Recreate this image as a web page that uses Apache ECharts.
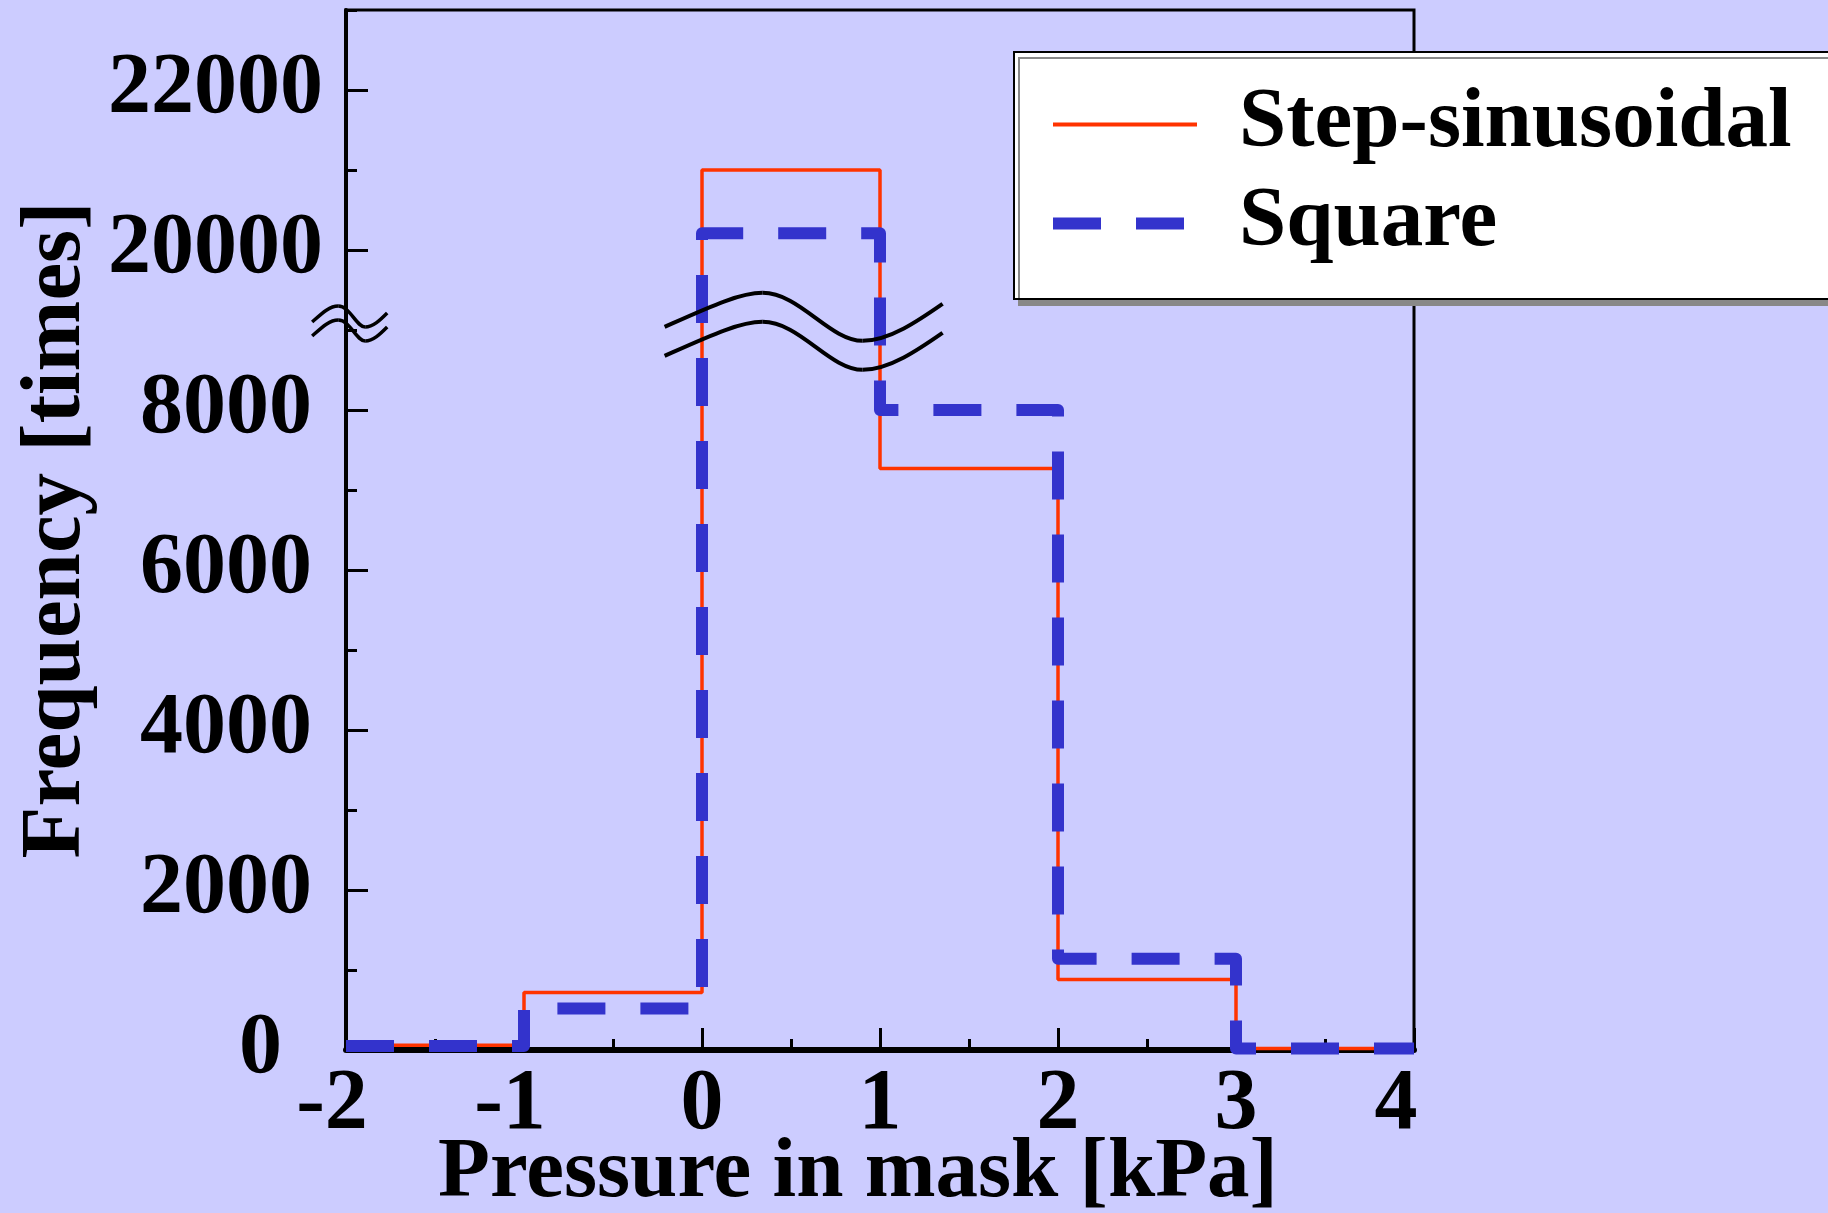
<!DOCTYPE html>
<html>
<head>
<meta charset="utf-8">
<script src="https://cdn.jsdelivr.net/npm/echarts@6/dist/echarts.min.js"></script>
<style>
  html, body { margin: 0; padding: 0; background: #ccccff; }
  #main { width: 1828px; height: 1213px; }
</style>
</head>
<body>
<div id="main"></div>
<script>
// histogram bins (kPa) and counts per bin
var binEdges = [-2, -1, 0, 1, 2, 3, 4];
var stepSinusoidal = [60, 720, 21000, 7270, 880, 20];
var square = [50, 520, 20210, 8000, 1140, 20];
var seriesNames = ['Step-sinusoidal', 'Square'];

// broken y axis: everything above 9000 is drawn 10000 lower
var breakFrom = 9000;
var breakSkip = 10000;

var font = 'Liberation Serif';

function squeeze(v) {
  return v > breakFrom ? v - breakSkip : v;
}

function stepPoints(values) {
  var pts = values.map(function (v, i) {
    return [binEdges[i], squeeze(v)];
  });
  pts.push([binEdges[binEdges.length - 1], squeeze(values[values.length - 1])]);
  return pts;
}

var labelStyle = {
  fontFamily: font,
  fontWeight: 'bold',
  fontSize: 86,
  lineHeight: 86,
  color: '#000'
};

var chart = echarts.init(document.getElementById('main'), null, { renderer: 'canvas' });

var option = {
  animation: false,
  backgroundColor: '#ccccff',
  grid: {
    left: 346,
    right: 414,
    top: 10,
    bottom: 163,
    outerBoundsMode: 'none',
    show: true,
    borderColor: '#000',
    borderWidth: 3,
    backgroundColor: 'transparent'
  },
  legend: {
    orient: 'vertical',
    left: 1014,
    top: 52,
    padding: [30, 40, 33, 33],
    itemGap: 14,
    itemWidth: 144,
    itemHeight: 14,
    backgroundColor: '#fff',
    borderColor: '#000',
    borderWidth: 2,
    shadowColor: '#888',
    shadowOffsetX: 5,
    shadowOffsetY: 6,
    shadowBlur: 0,
    itemStyle: { opacity: 0 },
    textStyle: {
      fontFamily: font,
      fontWeight: 'bold',
      fontSize: 85,
      lineHeight: 85,
      color: '#000',
      padding: [0, 0, 0, 37]
    },
    data: [
      { name: seriesNames[0], lineStyle: { width: 4 } },
      { name: seriesNames[1], lineStyle: { width: 12 } }
    ]
  },
  xAxis: {
    type: 'value',
    min: -2,
    max: 4,
    interval: 1,
    name: 'Pressure in mask [kPa]',
    nameLocation: 'middle',
    nameGap: 82,
    nameMoveOverlap: false,
    nameTextStyle: {
      fontFamily: font,
      fontWeight: 'bold',
      fontSize: 85,
      lineHeight: 85,
      color: '#000',
      padding: [0, 44, 0, 0]
    },
    axisLine: { onZero: false, lineStyle: { color: '#000', width: 6 } },
    axisTick: { inside: true, length: 22, lineStyle: { color: '#000', width: 3 } },
    minorTick: { show: true, splitNumber: 2, length: 11, lineStyle: { color: '#000', width: 3 } },
    splitLine: { show: false },
    axisLabel: Object.assign({}, labelStyle, {
      margin: 13,
      formatter: function (v) {
        // minus sign hangs to the left of the digit; last label sits a bit left
        if (v < 0) return v + '{p|}';
        if (v === 4) return v + '{r|}';
        return String(v);
      },
      rich: { p: { width: 28 }, r: { width: 36 } }
    })
  },
  yAxis: [
    {
      type: 'value',
      min: 0,
      max: 13000,
      interval: 2000,
      name: 'Frequency [times]',
      nameLocation: 'middle',
      nameRotate: 90,
      nameGap: 246,
      nameMoveOverlap: false,
      nameTextStyle: {
        fontFamily: font,
        fontWeight: 'bold',
        fontSize: 85,
        lineHeight: 85,
        color: '#000'
      },
      axisLine: { show: true, onZero: false, lineStyle: { color: '#000', width: 4 } },
      axisTick: { inside: true, length: 22, lineStyle: { color: '#000', width: 3 } },
      splitLine: { show: false },
      axisLabel: Object.assign({}, labelStyle, {
        margin: 23,
        showMaxLabel: false,
        formatter: function (v) {
          var real = v > breakFrom ? v + breakSkip : v;
          if (real === 0) return '0{p|}';
          if (real < 10000) return real + '{q|}';
          return String(real);
        },
        rich: { p: { width: 41 }, q: { width: 11 } }
      })
    },
    {
      // minor ticks every 1000
      type: 'value',
      min: 0,
      max: 13000,
      interval: 1000,
      position: 'left',
      axisLine: { show: false, onZero: false },
      axisTick: { inside: true, length: 11, lineStyle: { color: '#000', width: 3 } },
      axisLabel: { show: false },
      splitLine: { show: false }
    }
  ],
  series: [
    {
      name: seriesNames[0],
      type: 'line',
      step: 'end',
      symbol: 'none',
      color: '#ff3300',
      lineStyle: { color: '#ff3300', width: 3.5 },
      data: stepPoints(stepSinusoidal),
      z: 2
    },
    {
      name: seriesNames[1],
      type: 'line',
      step: 'end',
      symbol: 'none',
      color: '#3333cc',
      lineStyle: { color: '#3333cc', width: 12, type: [48, 35], cap: 'butt', join: 'round' },
      data: stepPoints(square),
      z: 3
    }
  ]
};

chart.setOption(option);

// break marks ("≈") drawn as two parallel waves, anchored in data coordinates
var bigWave = [
  [0, 0, 45, -20, 75, -34, 98, -34],
  [98, -34, 135, -34, 165, 14, 198, 14],
  [198, 14, 225, 14, 255, -7, 278, -23]
];
var smallWave = [
  [0, 0, 9, -8, 17, -16, 26, -16],
  [26, -16, 38, -16, 44, 5, 53, 5],
  [53, 5, 61, 5, 68, -2, 75, -9]
];

function waveElements(anchor, segs, gap, width) {
  var p = chart.convertToPixel({ gridIndex: 0 }, anchor);
  var els = [];
  [0, gap].forEach(function (dy) {
    segs.forEach(function (s) {
      els.push({
        type: 'bezierCurve',
        z: 100,
        shape: {
          x1: p[0] + s[0], y1: p[1] + s[1] + dy,
          cpx1: p[0] + s[2], cpy1: p[1] + s[3] + dy,
          cpx2: p[0] + s[4], cpy2: p[1] + s[5] + dy,
          x2: p[0] + s[6], y2: p[1] + s[7] + dy
        },
        style: { stroke: '#000', lineWidth: width, fill: null }
      });
    });
  });
  return els;
}

chart.setOption({
  graphic: waveElements([-0.21, 9040], bigWave, 29, 4)
    .concat(waveElements([-2.19, 9100], smallWave, 14, 3.5))
});
</script>
</body>
</html>
